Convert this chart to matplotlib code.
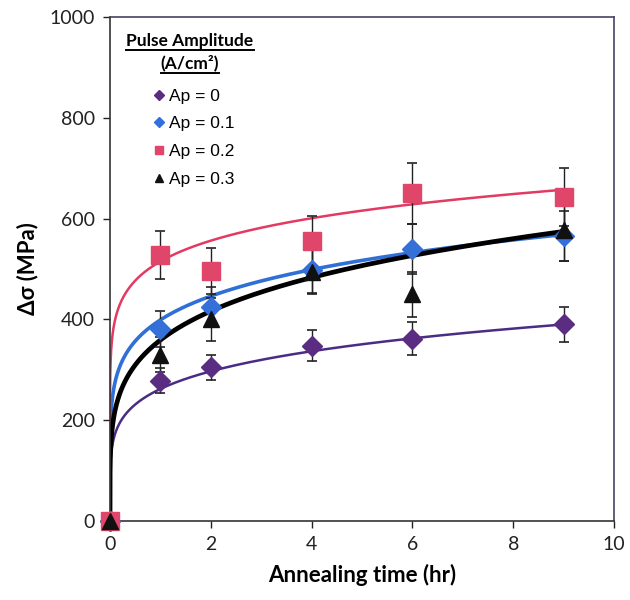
"""Yield strength increase vs annealing time for several pulse amplitudes."""

import matplotlib

matplotlib.use("Agg")
import matplotlib.pyplot as plt
import numpy as np
from matplotlib.lines import Line2D

# measured points (hr, MPa)
times = [0, 1, 2, 4, 6, 9]
ap0 = [0, 278, 305, 348, 362, 390]
ap0_err = [0, 25, 25, 30, 33, 35]
ap01 = [0, 381, 425, 497, 540, 566]
ap01_err = [0, 35, 40, 45, 50, 50]
ap02 = [0, 528, 496, 556, 650, 643]
ap02_err = [0, 48, 45, 50, 60, 58]
ap03 = [0, 330, 400, 495, 450, 578]
ap03_err = [0, 35, 42, 45, 45, 62]

labels = ["Ap = 0", "Ap = 0.1", "Ap = 0.2", "Ap = 0.3"]

# power-law trend lines  sigma = a * t**n
fit_a = [262, 399, 515, 359]
fit_n = [0.181, 0.161, 0.111, 0.214]

series = [
    # values, errors, marker colour, line colour, marker, marker size, line width
    (ap0, ap0_err, "#5a2d82", "#4b2c84", "D", 10, 1.8),
    (ap01, ap01_err, "#3470d8", "#2f6fd6", "D", 10, 2.6),
    (ap02, ap02_err, "#e0466a", "#e23a62", "s", 13, 1.8),
    (ap03, ap03_err, "#111111", "#000000", "^", 11, 3.4),
]

fig = plt.figure(figsize=(6.3, 6.0), dpi=100)
ax = fig.add_axes([0.1746, 0.1317, 0.80, 0.84])

t_fit = np.concatenate([[0.0], np.logspace(-5, np.log10(9), 500)])
for (vals, errs, mcol, lcol, mk, ms, lw), a, n in zip(series, fit_a, fit_n):
    ax.plot(t_fit, a * t_fit ** n, color=lcol, linewidth=lw, zorder=2)

handles = []
for (vals, errs, mcol, lcol, mk, ms, lw), label in zip(series, labels):
    ax.errorbar(
        times,
        vals,
        yerr=errs,
        fmt="none",
        ecolor="#222222",
        elinewidth=1.0,
        capsize=3.5,
        capthick=1.2,
        zorder=3,
    )
    ax.plot(times, vals, linestyle="none", marker=mk, markersize=ms,
            color=mcol, markeredgecolor=mcol, zorder=4, clip_on=False)
    handles.append(Line2D([], [], linestyle="none", marker=mk, markersize=5.5,
                          color=mcol, label=label))

ax.set_xlim(0, 10)
ax.set_ylim(0, 1000)
ax.set_xticks(range(0, 11, 2))
ax.set_yticks(range(0, 1001, 200))
ax.tick_params(direction="out", length=5, width=1.0, labelsize=14,
               top=False, right=False, pad=6, colors="#222222")
for label in ax.get_xticklabels() + ax.get_yticklabels():
    label.set_family("Lato")
for side in ("left", "bottom"):
    ax.spines[side].set_color("#333333")
    ax.spines[side].set_linewidth(1.2)
for side in ("right", "top"):
    ax.spines[side].set_color("#444466")
    ax.spines[side].set_linewidth(1.2)

ax.set_xlabel("Annealing time (hr)", fontsize=16, fontweight="bold",
              family="Lato", labelpad=8)
ax.set_ylabel("Δσ (MPa)", fontsize=16, fontweight="bold",
              family="Lato", labelpad=8)

leg = ax.legend(
    handles=handles,
    loc="upper left",
    bbox_to_anchor=(0.23, 0.867),
    bbox_transform=fig.transFigure,
    frameon=False,
    handlelength=0.6,
    handletextpad=0.3,
    labelspacing=0.72,
    borderpad=0,
    prop={"family": "Liberation Sans", "size": 12.5},
)

# legend heading, underlined as in the source
heading = [("Pulse Amplitude", 0.3015, 0.924), ("(A/cm²)", 0.3015, 0.886)]
texts = []
for txt, x, y in heading:
    texts.append(fig.text(x, y, txt, ha="center", va="baseline", fontsize=12.5,
                          fontweight="bold", family="Lato"))
fig.canvas.draw()
renderer = fig.canvas.get_renderer()
inv = fig.transFigure.inverted()
for text in texts:
    bb = text.get_window_extent(renderer)
    (x0, y0), (x1, _) = inv.transform([(bb.x0, bb.y0), (bb.x1, bb.y1)])
    fig.add_artist(Line2D([x0, x1], [y0 - 0.002, y0 - 0.002], color="black",
                          linewidth=1.4, transform=fig.transFigure))

fig.savefig("out.png", dpi=100)
